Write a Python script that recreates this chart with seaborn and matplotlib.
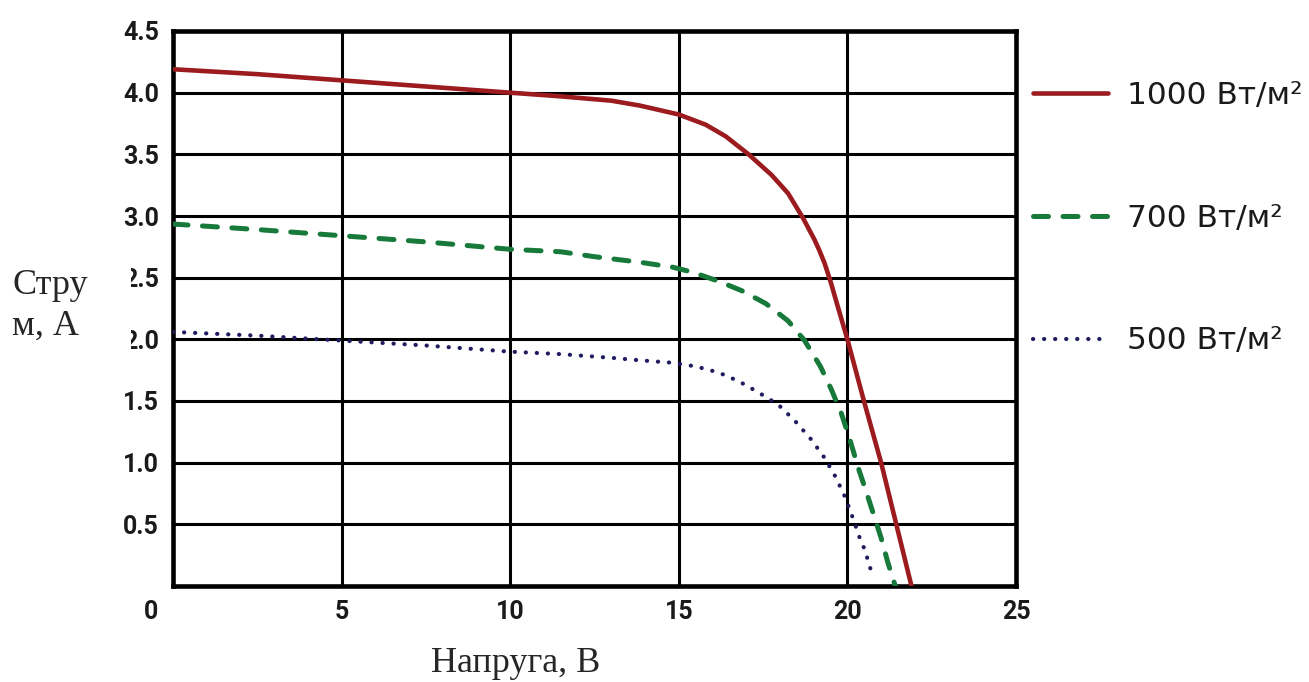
import matplotlib
matplotlib.use("Agg")
import matplotlib.pyplot as plt
import matplotlib.transforms as mtransforms
from matplotlib.patches import Rectangle
import seaborn as sns

# ---- data ----
v1000 = [0, 2.5, 5, 7.5, 10, 11.5, 13, 13.85, 15, 15.8, 16.39, 17.07, 17.75, 18.24,
         18.68, 19.02, 19.17, 19.32, 19.51, 19.71, 20.0, 20.49, 21.0, 21.45, 21.9]
i1000 = [4.19, 4.15, 4.10, 4.05, 4.00, 3.97, 3.935, 3.895, 3.823, 3.74, 3.646, 3.50, 3.333, 3.184,
         2.985, 2.81, 2.72, 2.62, 2.46, 2.27, 2.0, 1.5, 1.0, 0.5, 0.0]

v700 = [0, 2.5, 5, 7.5, 10, 11.5, 12.5, 13.85, 14.82, 15.41, 16.19, 16.87, 17.58, 18.24,
        18.73, 19.2, 19.53, 19.82, 20.07, 20.32, 20.6, 20.8, 21.0, 21.2, 21.42]
i700 = [2.935, 2.89, 2.84, 2.79, 2.73, 2.71, 2.67, 2.625, 2.585, 2.544, 2.47, 2.394, 2.29, 2.15,
        1.99, 1.78, 1.59, 1.40, 1.19, 0.96, 0.73, 0.56, 0.39, 0.19, 0.0]

v500 = [0, 2.5, 5, 7.5, 10, 11.5, 13, 13.85, 14.82, 15.51, 16.19, 16.78, 17.36, 17.95,
        18.44, 18.92, 19.32, 19.66, 19.95, 20.19, 20.39, 20.54, 20.63, 20.78]
i500 = [2.06, 2.03, 1.99, 1.95, 1.90, 1.88, 1.85, 1.83, 1.81, 1.78, 1.73, 1.66, 1.57, 1.47,
        1.34, 1.19, 1.04, 0.88, 0.71, 0.53, 0.37, 0.28, 0.18, 0.07]

labels = ["1000 Вт/м²", "700 Вт/м²", "500 Вт/м²"]
x_ticks = [0, 5, 10, 15, 20, 25]
y_ticks = [0.5, 1.0, 1.5, 2.0, 2.5, 3.0, 3.5, 4.0, 4.5]
x_label = "Напруга, В"
y_label = "Стру\nм, А"

# ---- style ----
sns.set_style("white")
plt.rcParams["font.family"] = ["DejaVu Sans"]

W, H = 1309, 682
fig = plt.figure(figsize=(W / 100, H / 100), dpi=100)
ax = fig.add_axes([173 / W, (H - 586) / H, 843 / W, 555 / H])

red = "#9b1b1f"
green = "#17793a"
navy = "#1f1c60"

sns.lineplot(x=v1000, y=i1000, ax=ax, color=red, lw=3.3, label=labels[0],
             estimator=None, sort=False, solid_capstyle="round",
             solid_joinstyle="round", zorder=5)
sns.lineplot(x=v700, y=i700, ax=ax, color=green, lw=3.6, label=labels[1],
             estimator=None, sort=False, linestyle=(0, (3.0, 2.9)),
             dash_capstyle="round", dash_joinstyle="round", zorder=5)
sns.lineplot(x=v500, y=i500, ax=ax, color=navy, lw=3.0, label=labels[2],
             estimator=None, sort=False, linestyle=(0, (0.05, 2.6)),
             dash_capstyle="round", zorder=5)

ax.set_xlim(0, 25)
ax.set_ylim(0, 4.5)
ax.set_xticks(x_ticks)
ax.set_yticks(y_ticks)
ax.set_yticklabels([f"{v:.1f}" for v in y_ticks])
ax.set_xticklabels([str(v) for v in x_ticks])
ax.grid(True, color="black", lw=2.2)
ax.set_axisbelow(True)
for s in ax.spines.values():
    s.set_visible(True)
    s.set_color("black")
    s.set_linewidth(3.3)
ax.tick_params(axis="both", length=0, pad=10)
for lab in ax.get_xticklabels() + ax.get_yticklabels():
    lab.set_fontfamily(["Roboto", "DejaVu Sans"])
    lab.set_fontweight("bold")
    lab.set_fontsize(18)
    lab.set_color("#1a1a1a")
# shift "0" x label to the left
off = mtransforms.ScaledTranslation(-0.22, 0, fig.dpi_scale_trans)
xl0 = ax.get_xticklabels()[0]
xl0.set_transform(xl0.get_transform() + off)
ax.set_xlabel("")
ax.set_ylabel("")

leg = ax.legend(loc="upper left", bbox_to_anchor=(1033 / W, (H - 81) / H),
                bbox_transform=fig.transFigure, frameon=False,
                fontsize=22.5, handlelength=2.4, handletextpad=0.6,
                labelspacing=3.0, borderpad=0, borderaxespad=0)
for t in leg.get_texts():
    t.set_color("#1a1a1a")

# white patch covering part of tick labels (as in the reference)
fig.patches.append(Rectangle((0, (H - 372) / H), 131 / W, 122 / H,
                             transform=fig.transFigure, facecolor="white",
                             edgecolor="none", zorder=2))
fig.text(12 / W, (H - 335) / H, y_label, ha="left", va="baseline",
         family=["Liberation Serif", "DejaVu Serif"], fontsize=26,
         linespacing=1.33, zorder=3)
fig.text(516 / W, (H - 672) / H, x_label, ha="center", va="baseline",
         family=["Liberation Serif", "DejaVu Serif"], fontsize=26, zorder=3)

fig.savefig("out.png", dpi=100)
